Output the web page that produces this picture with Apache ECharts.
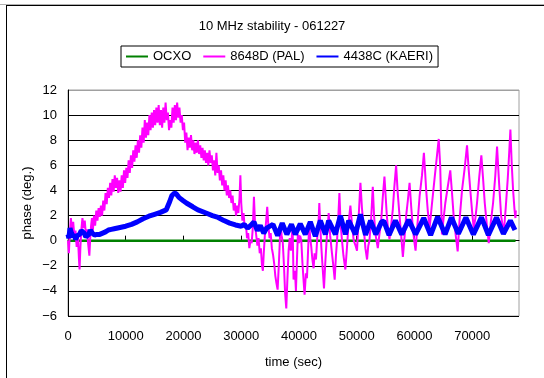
<!DOCTYPE html>
<html>
<head>
<meta charset="utf-8">
<script src="https://cdn.jsdelivr.net/npm/echarts@6/dist/echarts.min.js"></script>
<style>
html,body{margin:0;padding:0;background:#fff;}
#chart{width:544px;height:378px;}
</style>
</head>
<body>
<div id="chart"></div>
<script>
// ---- data ----
const titleText = '10 MHz stability - 061227';
const seriesNames = ['OCXO', '8648D (PAL)', '4438C (KAERI)'];
const xTickValues = [0, 10000, 20000, 30000, 40000, 50000, 60000, 70000];
const yTickValues = [-6, -4, -2, 0, 2, 4, 6, 8, 10, 12];

const ocxoTime = [0, 77500];
const ocxoPhase = [0, 0];

const palTime = [0,150,300,500,700,900,1100,1300,1500,1700,1900,2000,2150,2300,2500,2700,2900,3100,3300,3500,3700,3850,4000,4150,4300,4500,4700,4900,5100,5300,5500,5700,5900,6100,6300,6500,6700,6900,7100,7300,7500,7700,7900,8100,8300,8500,8700,8900,9100,9300,9500,9700,9900,10100,10300,10500,10700,10900,11100,11300,11500,11700,11900,12100,12300,12500,12700,12900,13100,13300,13500,13700,13900,14100,14300,14500,14700,14900,15100,15300,15500,15700,15900,16100,16300,16500,16700,16900,17100,17300,17500,17700,17900,18100,18300,18500,18700,18900,19100,19300,19500,19700,19900,20100,20300,20500,20700,20900,21100,21300,21500,21700,21900,22100,22300,22500,22700,22900,23100,23300,23500,23700,23900,24100,24300,24500,24700,24900,25100,25300,25500,25700,25900,26100,26300,26500,26700,26900,27100,27300,27500,27700,27900,28100,28300,28500,28700,28900,29100,29300,29500,29700,29850,30000,30200,30400,30600,30800,31000,31200,31400,31600,31800,32000,32200,32400,32600,32800,33000,33200,33400,33600,33750,33900,34100,34300,34500,34700,34900,35100,35300,35500,35700,35900,36100,36300,36500,36700,36800,37000,37200,37400,37600,37800,38000,38200,38400,38600,38800,38900,39060,39300,39470,39650,39810,40000,40200,40400,40600,40800,40970,41200,41380,41600,41780,41950,42130,42300,42530,42700,42940,43200,43400,43520,43700,43870,44100,44330,44550,44850,45000,45140,45400,45710,45950,46180,46400,46590,46800,47000,47200,47450,47700,48030,48300,48610,48900,49200,49480,49800,50050,50300,50640,50900,51220,51500,51790,52000,52200,52500,52780,53000,53250,53650,53900,54220,54500,54800,55000,55210,55450,55670,55950,56250,56500,56820,57100,57410,57700,57990,58300,58560,58850,59150,59450,59720,59950,60190,60500,60880,61300,61630,61850,62030,62300,62620,63000,63490,63900,64200,64450,64760,65000,65340,65800,66200,66500,66780,67100,67480,67800,68230,68700,69100,69400,69670,70000,70260,70550,70830,71200,71580,71900,72170,72500,72860,73200,73610,74000,74300,74650,75000,75460,75800,76160,76400,76610,76850,77080,77300,77480,77550];
const palPhase = [0,-1.0,0.5,1.8,0.8,1.5,0.3,0.8,-0.5,0.5,-1.5,-2.3,-0.5,0.8,1.8,1.0,1.6,0.5,0.9,-0.3,-1.2,0.2,1.2,1.8,0.8,2.0,1.2,2.4,1.6,2.6,1.9,2.8,2.0,3.2,2.4,3.8,2.9,4.2,3.4,4.6,3.6,4.9,3.9,5.2,4.2,5.0,3.8,4.8,3.9,5.2,4.2,5.6,4.6,5.8,5.0,6.4,5.4,6.8,5.8,7.2,6.3,7.6,6.6,8.0,7.0,8.4,7.4,9.0,7.8,9.6,8.2,9.4,8.4,10.0,8.8,10.2,9.0,10.4,9.2,10.6,9.4,10.8,9.2,10.4,9.0,10.6,9.4,11.0,9.6,10.2,8.8,9.6,9.0,10.6,9.4,10.8,9.6,11.0,9.8,10.6,9.4,10.0,8.8,9.4,7.8,8.6,7.2,8.2,7.4,8.4,7.2,8.0,6.9,7.8,7.0,8.0,6.9,7.6,6.6,7.4,6.4,7.2,6.2,7.0,6.0,7.2,6.2,6.8,5.6,6.4,5.2,7.0,5.4,6.0,4.8,5.6,4.4,5.2,4.0,4.8,3.6,4.4,3.4,4.0,3.0,3.6,2.4,3.0,2.0,2.8,2.2,3.4,5.2,3.0,1.6,2.2,1.0,1.4,0.2,0.6,-0.6,0.0,-0.2,1.0,3.5,1.2,0.4,-0.4,0.2,-1.0,-0.6,-2.0,-2.4,-1.0,0.5,1.5,2.7,1.2,0.2,0.6,-0.6,-1.1,-1.8,-2.8,-3.4,-3.9,-2.0,0.2,1.3,0.4,-0.2,-2.0,-4.2,-5.4,-3.0,-0.8,0.2,-0.8,0.6,1.0,-3.1,-2.4,-4.0,-1.5,0.5,-0.2,0.4,0.0,-1.8,-3.2,-4.3,-2.6,-3.0,-0.5,1.3,0.2,-0.5,-1.4,-2.2,-1.0,-1.5,0.5,1.6,3.0,1.0,-0.5,-2.2,-3.8,-1.8,0.5,1.2,2.2,0.4,-1.0,-2.0,-3.1,-1.2,0.0,1.8,3.8,1.4,0.0,-1.2,-2.3,-0.6,1.5,2.8,1.2,0.0,-0.4,-0.8,1.6,4.6,2.6,1.0,-0.6,-1.5,-0.4,0.0,1.8,4.3,2.0,0.5,-0.6,0.4,1.5,3.4,5.1,3.6,2.0,0.8,0.1,1.2,2.5,4.2,6.0,3.8,2.0,0.4,-1.3,0.4,2.0,3.2,4.6,2.6,1.0,0.0,-0.8,1.2,3.5,5.2,7.0,5.4,4.0,2.4,1.0,2.8,5.0,6.8,8.1,6.0,0.5,1.6,3.0,4.4,5.6,3.8,2.0,0.6,-0.85,1.6,4.0,5.8,7.6,5.6,4.0,2.2,1.0,1.8,3.0,5.0,6.8,4.8,3.0,1.4,-0.2,1.4,3.0,5.2,7.5,4.6,2.0,0.6,2.6,5.0,7.0,8.85,6.0,4.0,2.6,1.8,2.4];

const kaeriTime = [0,150,350,600,900,1100,1300,1600,2000,2300,2550,2800,3100,3300,3600,3870,4200,4600,5000,5500,6000,6500,7000,7500,8000,9000,10000,11000,12000,13000,14000,15000,16000,17000,17300,17600,18000,18450,18800,19200,19900,20500,21600,22500,23900,25000,26000,27000,28000,29000,30000,30500,31100,31600,32200,32800,33300,33900,34400,35500,36300,37100,37900,38700,39360,40220,41090,41960,42830,43700,44570,45140,46300,47170,48040,48610,49780,50640,51520,52400,53300,54300,54700,55600,56700,57800,59000,60200,61600,62800,64000,65300,66400,67600,68900,70200,71600,72800,74200,75400,76600,77400];
const kaeriPhase = [0.5,0.2,1.0,0.6,0.3,0.5,0.1,0.4,0.5,0.8,0.9,0.6,0.3,0.15,0.5,0.85,0.6,0.45,0.5,0.5,0.6,0.7,0.85,0.9,0.95,1.05,1.15,1.3,1.5,1.75,1.95,2.1,2.25,2.45,2.6,3.1,3.6,3.8,3.7,3.45,3.2,3.0,2.7,2.45,2.2,2.0,1.85,1.6,1.4,1.25,1.15,1.3,1.0,1.2,1.5,0.8,1.2,0.6,1.0,1.3,0.4,1.4,0.5,1.3,0.5,1.35,0.5,1.5,0.35,1.6,0.5,1.6,0.5,2.0,0.5,1.6,0.5,2.1,0.45,1.6,0.5,1.5,1.55,0.45,1.6,0.5,1.65,0.5,1.8,0.45,1.9,0.5,1.85,0.55,1.85,0.5,1.85,0.45,1.85,0.55,1.6,0.85];

// ---- chart ----
function pairs(t, v) { return t.map((x, i) => [x, v[i]]); }

const chart = echarts.init(document.getElementById('chart'), null, {renderer: 'canvas'});
const fontFam = '"Liberation Sans", Arial, sans-serif';
chart.setOption({
  animation: false,
  backgroundColor: '#fff',
  textStyle: {fontFamily: fontFam},
  title: {
    text: titleText,
    left: 'center',
    top: 15,
    textStyle: {fontSize: 13, fontWeight: 'normal', color: '#000', fontFamily: fontFam}
  },
  legend: {
    data: seriesNames,
    left: 121,
    top: 46,
    padding: [4, 5, 4, 5],
    itemGap: 12,
    itemWidth: 22,
    itemHeight: 2,
    icon: 'rect',
    borderColor: '#000',
    borderWidth: 1,
    textStyle: {fontSize: 13, color: '#000', fontFamily: fontFam, padding: [0, 0, 0, 0]}
  },
  grid: {
    left: 68, top: 90, right: 25, bottom: 62,
    show: true, borderColor: '#a0a0a0', borderWidth: 1, backgroundColor: 'transparent'
  },
  xAxis: {
    type: 'value',
    min: 0, max: 78100, interval: 10000,
    name: 'time (sec)', nameLocation: 'middle', nameGap: 40, nameMoveOverlap: false,
    nameTextStyle: {fontSize: 13, color: '#000'},
    axisLine: {show: true, lineStyle: {color: '#000', width: 1}},
    axisTick: {show: true, inside: true, length: 5, lineStyle: {color: '#000'}},
    axisLabel: {fontSize: 13, color: '#000', margin: 14, showMaxLabel: false, formatter: v => String(v)},
    splitLine: {show: false}
  },
  yAxis: {
    type: 'value',
    min: -6, max: 12, interval: 2,
    name: 'phase (deg.)', nameLocation: 'middle', nameGap: 34, nameRotate: 90, nameMoveOverlap: false,
    nameTextStyle: {fontSize: 13, color: '#000'},
    axisLine: {show: true, onZero: false, lineStyle: {color: '#000', width: 1}},
    axisTick: {show: false},
    axisLabel: {fontSize: 13, color: '#000', margin: 11, formatter: v => String(v).replace('-', '\u2212')},
    splitLine: {show: true, lineStyle: {color: ['#000','#000','#000','#000','#000','#000','#000','#000','#000','#a0a0a0'], width: 1}}
  },
  graphic: [
    {type: 'line', shape: {x1: 0, y1: 4.5, x2: 544, y2: 4.5}, style: {stroke: '#b0b0b0', lineWidth: 1}},
    {type: 'line', shape: {x1: 6, y1: 5.5, x2: 544, y2: 5.5}, style: {stroke: '#000', lineWidth: 1}},
    {type: 'line', shape: {x1: 6.5, y1: 5, x2: 6.5, y2: 378}, style: {stroke: '#000', lineWidth: 1}}
  ],
  series: [
    {name: seriesNames[0], type: 'line', data: pairs(ocxoTime, ocxoPhase), showSymbol: false, symbol: 'none',
     lineStyle: {color: '#008000', width: 2.5}, itemStyle: {color: '#008000'}},
    {name: seriesNames[1], type: 'line', data: pairs(palTime, palPhase), showSymbol: false, symbol: 'none',
     lineStyle: {color: '#ff00ff', width: 2}, itemStyle: {color: '#ff00ff'}},
    {name: seriesNames[2], type: 'line', data: pairs(kaeriTime, kaeriPhase), showSymbol: false, symbol: 'none',
     lineStyle: {color: '#0000ff', width: 5}, itemStyle: {color: '#0000ff'}}
  ]
});
</script>
</body>
</html>
